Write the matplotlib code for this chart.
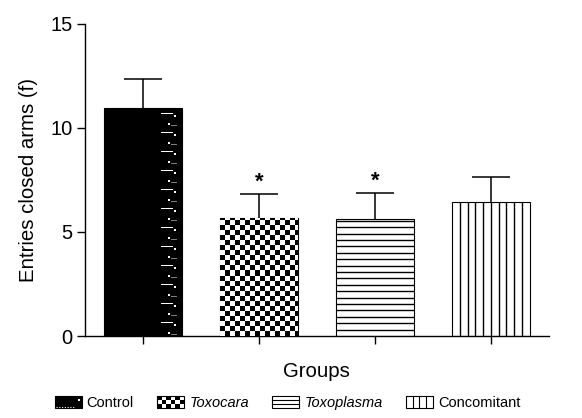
import numpy as np
import matplotlib
matplotlib.use("Agg")
import matplotlib.pyplot as plt
from matplotlib.patches import Rectangle
from matplotlib.lines import Line2D
from matplotlib.legend_handler import HandlerBase

groups = ["Control", "Toxocara", "Toxoplasma", "Concomitant"]
means = [10.95, 5.67, 5.64, 6.44]
sem = [1.40, 1.15, 1.24, 1.20]
signif = ["", "*", "*", ""]
fills = ["dots", "checker", "hlines", "vlines"]
italic = [False, True, True, False]

plt.rcParams['font.family'] = ['Liberation Sans', 'DejaVu Sans']

fig = plt.figure(figsize=(5.82, 4.18), dpi=100)
ax = fig.add_axes([0.146, 0.196, 0.797, 0.747])
ax.set_xlim(-0.5, 3.5)
ax.set_ylim(0, 15)

# pixel size in data units, used to lay out the fill patterns
fig.canvas.draw()
bb = ax.get_window_extent()
px_x = 4.0 / bb.width
px_y = 15.0 / bb.height

x = np.arange(len(groups))
width = 0.67
bars = ax.bar(x, means, width, color='white', edgecolor='black', linewidth=0.8, zorder=2)
eb = ax.errorbar(x, means, yerr=[np.zeros(len(sem)), sem], fmt='none', ecolor='black',
                 elinewidth=1.1, capsize=14, capthick=1.1, zorder=1)
# only the upper whisker is shown
eb[1][0].set_visible(False)


def control_fill(bar):
    bar.set_facecolor('black')
    # small white marks repeating down the right side of the bar
    tile = np.zeros((19, 24))
    tile[5, 3:15] = 1
    tile[7:9, 16:18] = 1
    tile[15:17, 10:12] = 1
    tile[17, 13:19] = 0.5
    h = bar.get_height()
    x1 = bar.get_x() + bar.get_width()
    n = int(np.ceil(h / (19 * px_y))) + 1
    alpha = np.tile(tile, (n, 1))
    rgba = np.ones(alpha.shape + (4,))
    rgba[..., 3] = alpha
    im = ax.imshow(rgba, extent=(x1 - 24 * px_x, x1, h - n * 19 * px_y, h),
                   origin='upper', interpolation='nearest', aspect='auto', zorder=3)
    im.set_clip_path(bar)


def checker_fill(bar):
    sq = 5
    x0, w, h = bar.get_x(), bar.get_width(), bar.get_height()
    nc = int(np.ceil(w / (sq * px_x))) + 1
    nr = int(np.ceil(h / (sq * px_y))) + 1
    board = np.add.outer(np.arange(nr), np.arange(nc)) % 2
    im = ax.imshow(board, cmap='gray_r', vmin=0, vmax=1, origin='lower',
                   extent=(x0, x0 + nc * sq * px_x, 0, nr * sq * px_y),
                   interpolation='nearest', aspect='auto', zorder=3)
    im.set_clip_path(bar)


def hline_fill(bar):
    x0, w, h = bar.get_x(), bar.get_width(), bar.get_height()
    ys = np.arange(6.4 * px_y, h, 6.4 * px_y)
    ax.hlines(ys, x0, x0 + w, color='black', lw=1.0, zorder=3)


def vline_fill(bar):
    x0, w, h = bar.get_x(), bar.get_width(), bar.get_height()
    xs = x0 + w * np.arange(1, 10) / 10
    ax.vlines(xs, 0, h, color='black', lw=1.0, zorder=3)


painters = {"dots": control_fill, "checker": checker_fill,
            "hlines": hline_fill, "vlines": vline_fill}
for bar, f in zip(bars, fills):
    painters[f](bar)

for xi, m, s, mark in zip(x, means, sem, signif):
    if mark:
        ax.text(xi, m + s + 0.05, mark, ha='center', va='bottom', fontsize=16,
                fontweight='bold')

ax.set_xlim(-0.5, 3.5)
ax.set_ylim(0, 15)
ax.set_xticks(x)
ax.set_xticklabels([])
ax.set_yticks([0, 5, 10, 15])
ax.tick_params(axis='both', direction='out', length=6, width=1, labelsize=14.5, pad=3)
for side in ('top', 'right'):
    ax.spines[side].set_visible(False)
for side in ('left', 'bottom'):
    ax.spines[side].set_linewidth(1)
ax.set_xlabel("Groups", fontsize=14.7, labelpad=10)
ax.set_ylabel("Entries closed arms (f)", fontsize=14.7, labelpad=9)


class Swatch:
    def __init__(self, style):
        self.style = style


class SwatchHandler(HandlerBase):
    def create_artists(self, legend, orig_handle, xdescent, ydescent,
                       width, height, fontsize, trans):
        x0, y0 = -xdescent, -ydescent
        style = orig_handle.style
        face = 'black' if style == 'dots' else 'white'
        out = [Rectangle((x0, y0), width, height, facecolor=face,
                         edgecolor='black', lw=0.8, transform=trans)]
        if style == 'checker':
            n, m = 6, 3
            cw, ch = width / n, height / m
            for i in range(n):
                for j in range(m):
                    if (i + j) % 2 == 0:
                        out.append(Rectangle((x0 + i * cw, y0 + j * ch), cw, ch,
                                             facecolor='black', lw=0, transform=trans))
        elif style == 'hlines':
            for k in (1, 2):
                yy = y0 + height * k / 3
                out.append(Line2D([x0, x0 + width], [yy, yy], color='black',
                                  lw=0.8, transform=trans))
        elif style == 'vlines':
            for k in (1, 2, 3):
                xx = x0 + width * k / 4
                out.append(Line2D([xx, xx], [y0, y0 + height], color='black',
                                  lw=0.8, transform=trans))
        else:
            out.append(Line2D([x0 + 1, x0 + width * 0.75], [y0 + 1, y0 + 1],
                              color='white', lw=0.8, ls=(0, (1, 1.5)), transform=trans))
            out.append(Rectangle((x0 + width * 0.86, y0 + height * 0.55),
                                 width * 0.08, height * 0.22, facecolor='white',
                                 lw=0, transform=trans))
        return out


handles = [Swatch(f) for f in fills]
leg = fig.legend(handles, groups, loc='center', bbox_to_anchor=(0.494, 0.036),
                 ncol=4, frameon=False, fontsize=10.5, handlelength=1.85,
                 handleheight=0.9, handletextpad=0.35, columnspacing=1.6,
                 handler_map={Swatch: SwatchHandler()})
for t, it in zip(leg.get_texts(), italic):
    if it:
        t.set_style('italic')

fig.savefig("out.png", dpi=100)
